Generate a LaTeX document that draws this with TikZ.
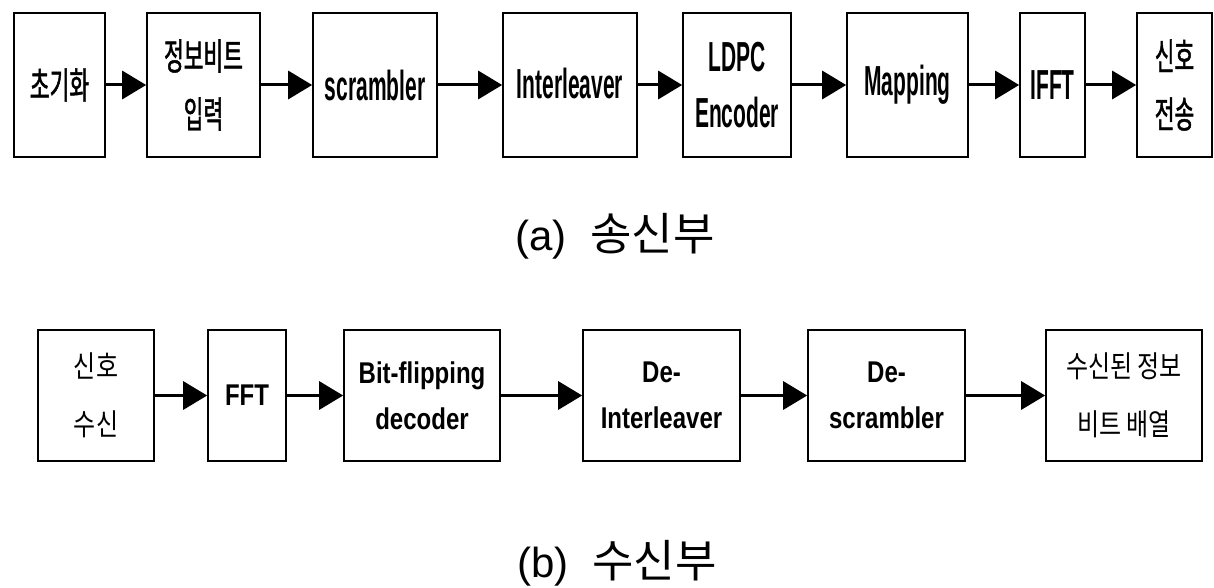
\documentclass[tikz,border=0pt]{standalone}
\usepackage{fontspec}
\usetikzlibrary{arrows.meta}
\newfontfamily\kcond[FakeStretch=0.58,FakeBold=1.2]{Noto Sans CJK KR}
\newfontfamily\kthin[FakeStretch=0.8]{Noto Sans CJK KR}
\newfontfamily\kcap{Noto Sans CJK KR}
\newfontfamily\lcond[FakeStretch=0.5]{Liberation Sans}
\newfontfamily\lnarrow[FakeStretch=0.8]{Liberation Sans}
\newfontfamily\lcap{Liberation Sans}
\begin{document}
\begin{tikzpicture}[x=1pt,y=-1pt,
  box/.style={draw=black, line width=1.6pt, rectangle, inner sep=0pt, align=center},
  topbox/.style={box, minimum height=144pt},
  botbox/.style={box, minimum height=131pt},
  ktop/.style={font=\kcond\fontsize{37}{58}\selectfont},
  ltop/.style={font=\lcond\bfseries\fontsize{42}{56}\selectfont},
  kbot/.style={font=\kthin\fontsize{30}{58}\selectfont},
  lbot/.style={font=\lnarrow\bfseries\fontsize{30}{46}\selectfont},
  arr/.style={line width=3pt, -{Triangle[length=24pt,width=28pt]}},
  caption/.style={inner sep=0pt}
]
\useasboundingbox (0,0) rectangle (1214,588);
% top row
\node[topbox, ktop, minimum width=91pt]  (b1) at (59.5,85) {초기화};
\node[topbox, ktop, minimum width=113pt] (b2) at (203.5,85) {정보비트\\입력};
\node[topbox, ltop, minimum width=124pt] (b3) at (375,85) {scrambler};
\node[topbox, ltop, minimum width=134pt] (b4) at (570,85) {\raisebox{4pt}{Interleaver}};
\node[topbox, ltop, minimum width=108pt] (b5) at (737,85) {LDPC\\Encoder};
\node[topbox, ltop, minimum width=121pt] (b6) at (907.5,85) {Mapping};
\node[topbox, ltop, minimum width=65pt]  (b7) at (1052.5,85) {IFFT};
\node[topbox, ktop, minimum width=75pt]  (b8) at (1174.5,85) {신호\\전송};
\draw[arr] (b1.east) -- (b2.west);
\draw[arr] (b2.east) -- (b3.west);
\draw[arr] (b3.east) -- (b4.west);
\draw[arr] (b4.east) -- (b5.west);
\draw[arr] (b5.east) -- (b6.west);
\draw[arr] (b6.east) -- (b7.west);
\draw[arr] (b7.east) -- (b8.west);
\node[caption] (capa) at (615,236) {\lcap\fontsize{42}{46}\selectfont (a)\ \ \kcap\fontsize{45}{48}\selectfont 송신부};
% bottom row
\node[botbox, kbot, minimum width=116pt] (c1) at (96,395.5) {신호\\수신};
\node[botbox, lbot, minimum width=78pt]  (c2) at (247,395.5) {FFT};
\node[botbox, lbot, minimum width=156pt] (c3) at (422,395.5) {Bit-flipping\\decoder};
\node[botbox, lbot, minimum width=157pt] (c4) at (661.5,395.5) {De-\\Interleaver};
\node[botbox, lbot, minimum width=157pt] (c5) at (886.5,395.5) {De-\\scrambler};
\node[botbox, kbot, minimum width=156pt] (c6) at (1124,395.5) {수신된 정보\\비트 배열};
\draw[arr] (c1.east) -- (c2.west);
\draw[arr] (c2.east) -- (c3.west);
\draw[arr] (c3.east) -- (c4.west);
\draw[arr] (c4.east) -- (c5.west);
\draw[arr] (c5.east) -- (c6.west);
\node[caption] (capb) at (617,563) {\lcap\fontsize{42}{46}\selectfont (b)\ \ \kcap\fontsize{45}{48}\selectfont 수신부};
\end{tikzpicture}
\end{document}
